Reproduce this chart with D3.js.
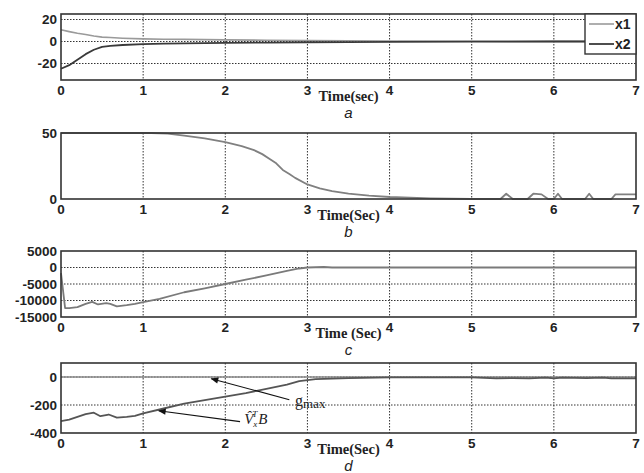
<!DOCTYPE html>
<html>
<head>
<meta charset="utf-8">
<script src="https://cdn.jsdelivr.net/npm/d3@7"></script>
<style>
  body { margin: 0; background: #fff; }
  .tick-label { font-family: "Liberation Sans", Arial, sans-serif; font-weight: bold; font-size: 13.5px; fill: #222; }
  .time-label { font-family: "Liberation Serif", "Times New Roman", serif; font-weight: bold; font-size: 14.5px; fill: #222; }
  .panel-letter { font-family: "Liberation Sans", Arial, sans-serif; font-style: italic; font-size: 15px; fill: #222; }
  .note { font-family: "Liberation Serif", "Times New Roman", serif; fill: #222; }
</style>
</head>
<body>
<svg id="chart" width="644" height="473"></svg>
<script>
// ---- data ----
var xTicks = [0, 1, 2, 3, 4, 5, 6, 7];

// panel a : states
var aTime = [0, 0.1, 0.2, 0.3, 0.4, 0.5, 0.6, 0.75, 1, 1.25, 1.5, 2, 2.5, 3, 3.5, 4, 5, 6, 7];
var x1 = [10.6, 9, 7.5, 6.4, 5, 4, 3.6, 3, 2.4, 2.1, 1.9, 1.5, 1.2, 0.9, 0.7, 0.5, 0.2, 0.1, 0];
var x2 = [-24.8, -21.5, -16.5, -11.5, -7.5, -4.8, -4, -3.2, -2.4, -2, -1.7, -1.3, -1, -0.7, -0.5, -0.4, -0.1, 0, 0];
var aTicks = [20, 0, -20];

// panel b
var bTime = [0, 1.1, 1.3, 1.5, 1.75, 2, 2.2, 2.35, 2.45, 2.55, 2.62, 2.7, 2.78, 2.85, 3, 3.15, 3.3, 3.5, 3.75, 4, 4.5, 5,
             5.35, 5.42, 5.5, 5.68, 5.75, 5.85, 5.93, 6.0, 6.05, 6.1, 6.38, 6.43, 6.48, 6.7, 6.75, 7];
var bValue = [50, 50, 49.5, 48, 46, 43, 40, 37, 34, 30, 27, 22, 19, 16, 11, 8, 6, 4, 2.5, 1.5, 0.5, 0,
              0, 4, 0, 0, 4, 3.5, 0, 0, 4, 0, 0, 4, 0, 0, 3.5, 3.5];
var bTicks = [50, 0];

// panel c
var cTime = [0, 0.05, 0.1, 0.2, 0.3, 0.38, 0.45, 0.55, 0.6, 0.68, 0.8, 0.9, 1, 1.2, 1.5, 1.75, 2, 2.25, 2.5, 2.75, 2.9, 3, 3.2, 3.3, 7];
var cValue = [-1700, -12300, -12300, -12000, -11000, -10400, -11200, -10800, -11000, -11800, -11400, -11000, -10500,
              -9500, -7500, -6300, -5000, -3700, -2400, -1000, -300, 0, 150, 0, 0];
var cTicks = [5000, 0, -5000, -10000, -15000];

// panel d
var dTime = [0, 0.1, 0.2, 0.3, 0.4, 0.48, 0.58, 0.68, 0.8, 0.9, 1, 1.25, 1.5, 1.75, 2, 2.25, 2.5, 2.75, 2.9, 3.1, 3.5, 4,
             5, 5.3, 5.5, 5.7, 5.9, 6, 6.1, 6.4, 6.6, 6.7, 7];
var dValue = [-315, -305, -285, -265, -255, -280, -268, -290, -285, -278, -260, -225, -190, -165, -140, -115, -85, -55, -30, -15, -8, -3,
              -3, -10, -8, -10, -5, -10, -5, -8, -5, -10, -10];
var gTime = [0, 7];
var gValue = [0, 0];
var dTicks = [0, -200, -400];

// arrows in panel d: [tailT, tailV, headT, headV]
var arrows = [[2.78, -162, 1.83, -12], [2.18, -319, 1.19, -241]];
var gmaxPos = [2.85, -205];
var vPos = [2.23, -334];

var panels = [
  { top: 14, bottom: 80, domain: [-35, 25], ticks: aTicks, xlabel: 'Time(sec)', letter: 'a',
    series: [{ t: aTime, v: x1, color: '#9a9a9a', w: 1.6 }, { t: aTime, v: x2, color: '#3a3a3a', w: 1.8 }] },
  { top: 133, bottom: 199, domain: [0, 50], ticks: bTicks, xlabel: 'Time(Sec)', letter: 'b',
    series: [{ t: bTime, v: bValue, color: '#808080', w: 1.8 }] },
  { top: 251, bottom: 317, domain: [-15000, 5000], ticks: cTicks, xlabel: 'Time (Sec)', letter: 'c',
    series: [{ t: cTime, v: cValue, color: '#7a7a7a', w: 1.8 }] },
  { top: 363, bottom: 433, domain: [-400, 100], ticks: dTicks, xlabel: 'Time(Sec)', letter: 'd',
    series: [{ t: gTime, v: gValue, color: '#8a8a8a', w: 1.6 }, { t: dTime, v: dValue, color: '#555', w: 1.8 }] }
];

var svg = d3.select('#chart');
var x = d3.scaleLinear().domain([0, 7]).range([61, 636]);

svg.append('defs').append('marker')
    .attr('id', 'head').attr('viewBox', '0 0 10 10').attr('refX', 9).attr('refY', 5)
    .attr('markerWidth', 9).attr('markerHeight', 7).attr('orient', 'auto')
  .append('path').attr('d', 'M0,1 L10,5 L0,9 Z').attr('fill', '#111');

panels.forEach(function(p, i) {
  var y = d3.scaleLinear().domain(p.domain).range([p.bottom, p.top]);
  var g = svg.append('g');

  g.append('rect').attr('x', x(0)).attr('y', p.top).attr('width', x(7) - x(0)).attr('height', p.bottom - p.top)
    .attr('fill', '#fff');

  // grid
  g.selectAll('.vg').data(xTicks.slice(1, -1)).enter().append('line')
    .attr('x1', d => x(d)).attr('x2', d => x(d)).attr('y1', p.top).attr('y2', p.bottom)
    .attr('stroke', '#333').attr('stroke-width', 1).attr('stroke-dasharray', '1.5,1.5');
  g.selectAll('.hg').data(p.ticks.filter(d => d > p.domain[0] && d < p.domain[1])).enter().append('line')
    .attr('x1', x(0)).attr('x2', x(7)).attr('y1', d => y(d)).attr('y2', d => y(d))
    .attr('stroke', '#333').attr('stroke-width', 1).attr('stroke-dasharray', '1.5,1.5');

  var line = d3.line().x(d => x(d[0])).y(d => y(d[1]));
  p.series.forEach(function(s) {
    g.append('path').datum(d3.zip(s.t, s.v)).attr('d', line)
      .attr('fill', 'none').attr('stroke', s.color).attr('stroke-width', s.w).attr('stroke-linejoin', 'round');
  });

  // border
  g.append('rect').attr('x', x(0)).attr('y', p.top).attr('width', x(7) - x(0)).attr('height', p.bottom - p.top)
    .attr('fill', 'none').attr('stroke', '#333').attr('stroke-width', 1.6);

  // tick labels
  g.selectAll('.xt').data(xTicks).enter().append('text').attr('class', 'tick-label')
    .attr('x', d => x(d)).attr('y', p.bottom + 15).attr('text-anchor', 'middle').text(d => d);
  g.selectAll('.yt').data(p.ticks).enter().append('text').attr('class', 'tick-label')
    .attr('x', 57).attr('y', d => y(d)).attr('dy', '0.36em').attr('text-anchor', 'end').text(d => d);

  g.append('text').attr('class', 'time-label').attr('x', x(3.5)).attr('y', p.bottom + 21)
    .attr('text-anchor', 'middle').text(p.xlabel);
  g.append('text').attr('class', 'panel-letter').attr('x', x(3.5)).attr('y', p.bottom + 38)
    .attr('text-anchor', 'middle').text(p.letter);

  if (i === 0) {
    // legend
    var lg = g.append('g');
    lg.append('rect').attr('x', 585).attr('y', p.top).attr('width', x(7) - 585).attr('height', 40)
      .attr('fill', '#fff').attr('stroke', '#333').attr('stroke-width', 1.4);
    p.series.forEach(function(s, k) {
      var ly = p.top + 10 + k * 20;
      lg.append('line').attr('x1', 589).attr('x2', 614).attr('y1', ly).attr('y2', ly)
        .attr('stroke', s.color).attr('stroke-width', s.w);
      lg.append('text').attr('class', 'tick-label').attr('x', 615).attr('y', ly).attr('dy', '0.36em')
        .attr('font-size', 14).style('font-size', '14px').text('x' + (k + 1));
    });
  }

  if (i === 3) {
    arrows.forEach(function(a) {
      g.append('line').attr('x1', x(a[0])).attr('y1', y(a[1])).attr('x2', x(a[2])).attr('y2', y(a[3]))
        .attr('stroke', '#111').attr('stroke-width', 1.1).attr('marker-end', 'url(#head)');
    });
    var gt = g.append('text').attr('class', 'note').attr('x', x(gmaxPos[0])).attr('y', y(gmaxPos[1]));
    gt.append('tspan').attr('font-size', 16).text('g');
    gt.append('tspan').attr('font-size', 13).attr('dy', 2).text('max');

    var vt = g.append('text').attr('class', 'note').attr('x', x(vPos[0])).attr('y', y(vPos[1]));
    vt.append('tspan').attr('font-size', 15).attr('font-style', 'italic').text('V\u0302');
    vt.append('tspan').attr('font-size', 9).attr('font-style', 'italic').attr('dy', 3).text('x');
    vt.append('tspan').attr('font-size', 9).attr('font-style', 'italic').attr('dx', -5).attr('dy', -10).text('T');
    vt.append('tspan').attr('font-size', 15).attr('font-style', 'italic').attr('dx', 1).attr('dy', 7).text('B');
  }
});
</script>
</body>
</html>
